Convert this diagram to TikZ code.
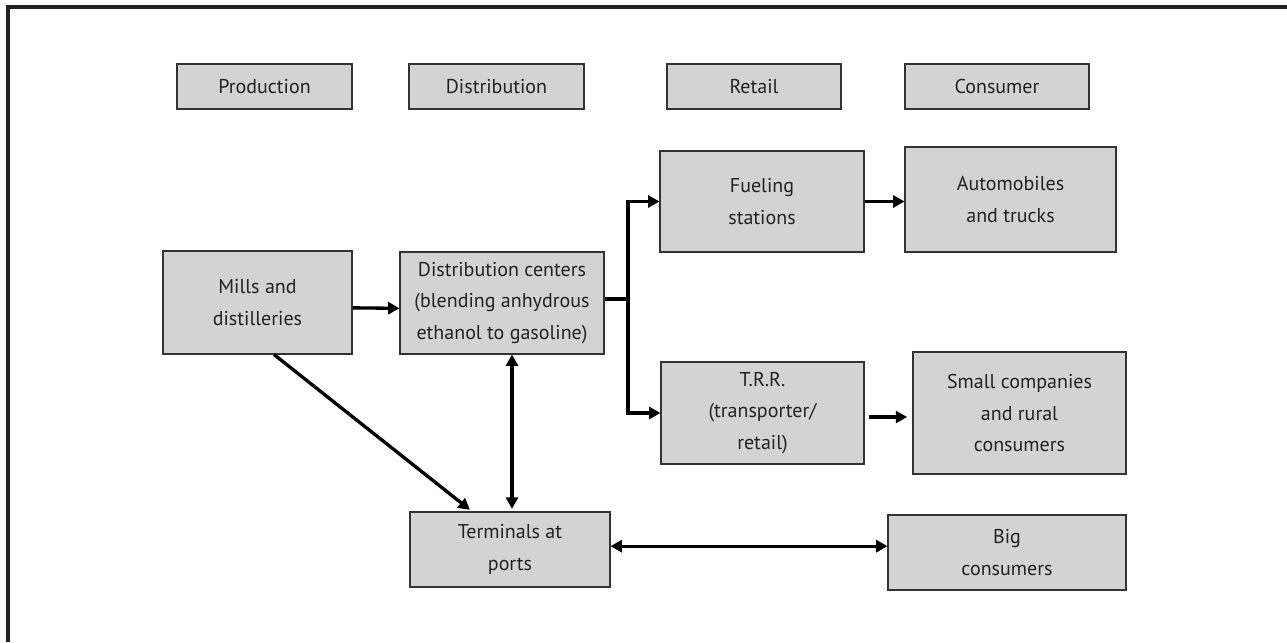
\documentclass[tikz,border=0pt]{standalone}
\usepackage{fontspec}
\setmainfont{PT Sans}
\usetikzlibrary{arrows.meta}

\definecolor{boxgray}{HTML}{D3D3D3}
\definecolor{edgegray}{HTML}{333333}
\definecolor{inkgray}{HTML}{222222}

\tikzset{
  stage/.style={draw=edgegray,line width=0.8pt,fill=boxgray,text=inkgray,
    align=center,inner sep=0pt,font=\fontsize{15}{23.5}\selectfont},
  flow/.style={line width=2.5pt,-{Triangle[length=8.5pt,width=9pt]}},
  twoway/.style={line width=2.5pt,{Triangle[length=8.5pt,width=9pt]}-{Triangle[length=8.5pt,width=9pt]}}
}

\begin{document}
\begin{tikzpicture}[x=0.75pt,y=-0.75pt]
\useasboundingbox (0,0) rectangle (1287,642);
% frame (only top and left edges show)
\draw[inkgray,line width=2.4pt] (8,642) -- (8,7) -- (1287,7);

% column headers
\node[stage,minimum width=131.25pt,minimum height=33.75pt] (hprod) at (264.5,86.5) {Production};
\node[stage,minimum width=131.25pt,minimum height=33.75pt] (hdist) at (496.5,86.5) {Distribution};
\node[stage,minimum width=130.5pt,minimum height=33.75pt] (hretail) at (754,86.5) {Retail};
\node[stage,minimum width=138pt,minimum height=33.75pt] (hcons) at (997,86.5) {Consumer};

% chain
\node[stage,minimum width=141.75pt,minimum height=77.25pt] (mills) at (257.5,302.5) {Mills and\\distilleries};
\node[stage,minimum width=153pt,minimum height=76.5pt] (distc) at (502,303) {Distribution centers\\(blending anhydrous\\ethanol to gasoline)};
\node[stage,minimum width=153pt,minimum height=75.75pt] (fuel) at (762,201.5) {Fueling\\stations};
\node[stage,minimum width=158.25pt,minimum height=78.75pt] (auto) at (1010.5,199.5) {Automobiles\\and trucks};
\node[stage,minimum width=152.25pt,minimum height=76.5pt] (trr) at (762.5,413) {T.R.R.\\(transporter/\\retail)};
\node[stage,minimum width=159.75pt,minimum height=91.5pt] (small) at (1019.5,413) {Small companies\\and rural\\consumers};
\node[stage,minimum width=150pt,minimum height=56.25pt] (term) at (510,549.5) {Terminals at\\ports};
\node[stage,minimum width=178.5pt,minimum height=56.25pt] (big) at (1007,552.5) {Big\\consumers};

% connectors
\coordinate (br) at (628,299);
\draw[flow] ([yshift=-4pt]mills.east) -- ([yshift=-4pt]distc.west);
\draw[line width=2.5pt] (distc.east |- br) -- (br);
\draw[flow] (br) |- (fuel.west);
\draw[flow] (br) |- (trr.west);
\draw[flow] (fuel.east) -- (fuel.east -| auto.west);
\draw[flow,line width=3pt,shorten <=3pt,shorten >=4pt] ([yshift=-3pt]trr.east) -- ([yshift=-3pt]trr.east -| small.west);
\draw[flow,shorten >=2pt] ([xshift=12.4pt]mills.south) -- ([xshift=-28.5pt]term.north);
\draw[twoway,shorten >=2pt] ([xshift=7.5pt]distc.south) -- ([xshift=1.5pt]term.north);
\draw[twoway] ([yshift=2.5pt]term.east) -- ([yshift=2.5pt]term.east -| big.west);
\end{tikzpicture}
\end{document}
